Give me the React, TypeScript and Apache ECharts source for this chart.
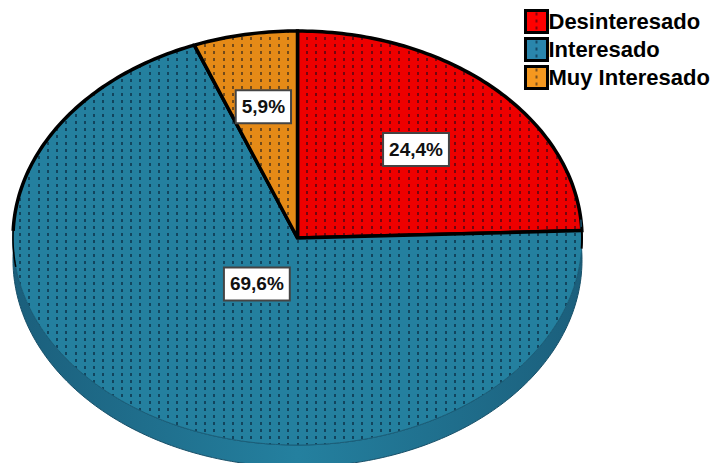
import React, { useEffect, useRef } from "react";
import * as echarts from "echarts";

const categories = ["Desinteresado", "Interesado", "Muy Interesado"];
const percentages = [24.4, 69.6, 5.9];
const labels = ["24,4%", "69,6%", "5,9%"];
const colors = ["#EE0000", "#24809F", "#E58A17"];
const legendColors = ["#FF0000", "#2A86AC", "#F5981F"];
const labelRadii = [0.6, 0.26, 0.65];

const WALL_DEPTH = 22;
const FONT = '"Liberation Sans", Arial, sans-serif';

function dotTile(bg: string) {
  const c = document.createElement("canvas");
  c.width = 37;
  c.height = 7;
  const ctx = c.getContext("2d")!;
  ctx.fillStyle = bg;
  ctx.fillRect(0, 0, 37, 7);
  ctx.fillStyle = "rgba(0,10,30,0.5)";
  [1, 10, 19, 28].forEach((x) => {
    ctx.fillRect(x, 2, 2, 3);
  });
  return { type: "pattern", image: c, repeat: "repeat" } as any;
}

function legendTile(bg: string) {
  const c = document.createElement("canvas");
  c.width = 22;
  c.height = 7;
  const ctx = c.getContext("2d")!;
  ctx.fillStyle = bg;
  ctx.fillRect(0, 0, 22, 7);
  ctx.fillStyle = "rgba(0,10,30,0.5)";
  ctx.fillRect(10, 2, 2, 3);
  return { type: "pattern", image: c, repeat: "repeat" } as any;
}

const total = percentages.reduce((a, b) => a + b, 0);

export default function App() {
  const ref = useRef<HTMLDivElement>(null);
  useEffect(() => {
    const chart = echarts.init(ref.current!, undefined, { renderer: "svg" });
    const rad = (d: number) => (d * Math.PI) / 180;
    let acc = 0;
    const series = categories.map((name, i) => {
      const startDeg = (acc / total) * 360;
      acc += percentages[i];
      const endDeg = (acc / total) * 360;
      const fill = dotTile(colors[i]);
      return {
        type: "custom",
        name,
        silent: true,
        itemStyle: { color: colors[i] },
        data: [[startDeg, endDeg, percentages[i]]],
        renderItem: (_p: any, api: any) => {
          const s = api.value(0);
          const e = api.value(1);
          const pt = (deg: number, r = 1) => api.coord([r * Math.sin(rad(deg)), r * Math.cos(rad(deg))]);
          const arc = (a: number, b: number) => {
            const out: number[][] = [];
            const n = Math.max(2, Math.ceil(Math.abs(b - a)));
            for (let k = 0; k <= n; k++) out.push(pt(a + ((b - a) * k) / n));
            return out;
          };
          const center = pt(0, 0);
          const children: any[] = [];
          const isLarge = e - s > 180;
          if (isLarge) {
            const front = arc(s - 3, 272);
            const wall = [
              ...front,
              ...front.slice().reverse().map((p) => [p[0], p[1] + WALL_DEPTH]),
            ];
            children.push({
              type: "polygon",
              shape: { points: wall },
              style: {
                fill: {
                  type: "linear", x: 0, y: 0, x2: 1, y2: 0,
                  colorStops: [
                    { offset: 0, color: "#1B5F7C" },
                    { offset: 0.5, color: "#24809F" },
                    { offset: 1, color: "#1B5F7C" },
                  ],
                },
                stroke: "#174F68",
                lineWidth: 1,
              },
            });
          }
          children.push({
            type: "polygon",
            shape: { points: [center, ...arc(s, e)] },
            style: { fill, stroke: null },
          });
          if (isLarge) {
            children.push({
              type: "polyline",
              shape: { points: arc(s + 6, 272) },
              style: { fill: null, stroke: "#1A5F7A", lineWidth: 1 },
            });
            children.push({
              type: "polyline",
              shape: { points: arc(s - 1, s + 5) },
              style: { fill: null, stroke: "#000", lineWidth: 2 },
            });
            children.push({
              type: "polyline",
              shape: { points: arc(262, 274) },
              style: { fill: null, stroke: "#000", lineWidth: 1.5 },
            });
            children.push({
              type: "polyline",
              shape: { points: arc(272, e) },
              style: { fill: null, stroke: "#000", lineWidth: 3.5 },
            });
            children.push({
              type: "polyline",
              shape: { points: [pt(s), center, pt(e)] },
              style: { fill: null, stroke: "#000", lineWidth: 3.5, lineJoin: "miter" },
            });
          } else {
            children.push({
              type: "polygon",
              shape: { points: [center, ...arc(s, e)] },
              style: { fill: null, stroke: "#000", lineWidth: 3.5 },
            });
          }
          const mid = (s + e) / 2;
          const lp = pt(mid, labelRadii[i]);
          children.push({
            type: "text",
            z2: 100,
            style: {
              x: lp[0],
              y: lp[1] + 1,
              text: labels[i],
              align: "center",
              verticalAlign: "middle",
              font: `bold 19px ${FONT}`,
              fill: "#111",
              backgroundColor: "#fff",
              borderColor: "#444",
              borderWidth: 2,
              padding: [6, 5, 6, 5],
            },
          });
          return { type: "group", children };
        },
      };
    });

    chart.setOption({
      animation: false,
      backgroundColor: "#fff",
      grid: { left: 13, top: 31, width: 569, height: 414, containLabel: false },
      xAxis: { type: "value", min: -1, max: 1, show: false },
      yAxis: { type: "value", min: -1, max: 1, show: false },
      legend: {
        left: 524,
        top: 9,
        orient: "vertical",
        itemWidth: 22,
        itemHeight: 22,
        itemGap: 3,
        padding: 0,
        icon: "rect",
        selectedMode: false,
        textStyle: { fontFamily: FONT, fontWeight: "bold", fontSize: 22, lineHeight: 22, color: "#000", padding: [0, 0, 0, -4] },
        data: categories.map((name, i) => ({
          name,
          icon: "rect",
          itemStyle: { color: legendTile(legendColors[i]), borderColor: "#000", borderWidth: 3 },
        })),
      },
      series,
    } as any);
    return () => chart.dispose();
  }, []);
  return <div ref={ref} style={{ position: "fixed", left: 0, top: 0, width: 714, height: 463 }} />;
}
